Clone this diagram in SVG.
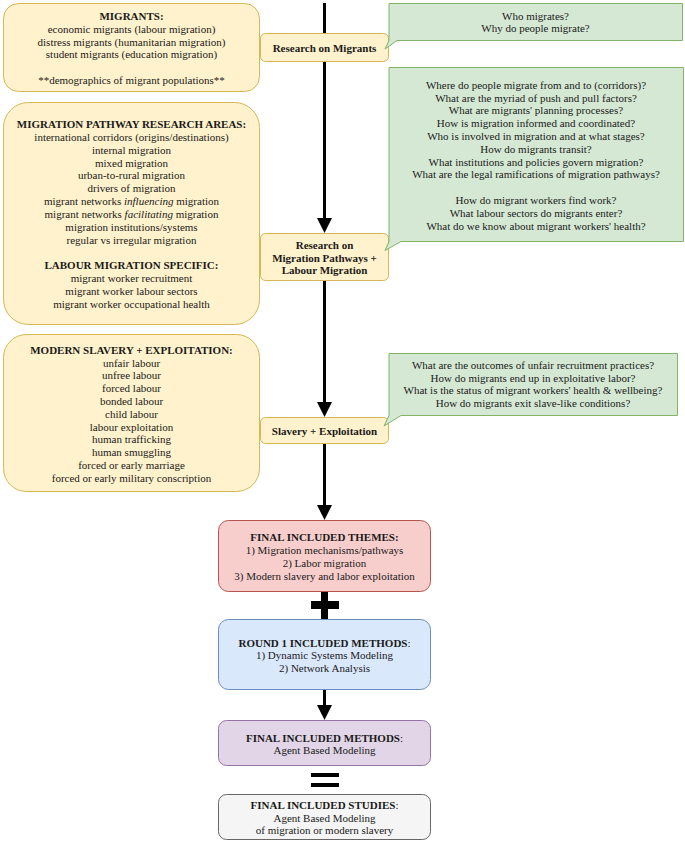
<svg xmlns="http://www.w3.org/2000/svg" width="685" height="842" viewBox="0 0 685 842">
<defs>
<style>
text{font-family:"Liberation Serif","Times New Roman",serif;font-size:11px;fill:#1a1a1a;text-anchor:middle}
.b{font-weight:bold}
.i{font-style:italic}
.n{font-weight:normal}
.yel{fill:#fff2cc;stroke:#d6b656;stroke-width:1}
.grn{fill:#d5e8d4;stroke:#82b366;stroke-width:1}
.red{fill:#f8cecc;stroke:#b85450;stroke-width:1}
.blu{fill:#dae8fc;stroke:#6c8ebf;stroke-width:1}
.pur{fill:#e1d5e7;stroke:#9673a6;stroke-width:1}
.gry{fill:#f5f5f5;stroke:#666666;stroke-width:1}
.ln{stroke:#000;stroke-width:3;fill:none}
</style>
<marker id="arr" markerUnits="userSpaceOnUse" markerWidth="16" markerHeight="16" viewBox="0 0 16 16" refX="8" refY="15" orient="auto-start-reverse">
<path d="M0.5,0 L15.5,0 L8,15 Z" fill="#000"/>
</marker>
</defs>
<rect width="685" height="842" fill="#fff"/>

<g id="connectors">
<line class="ln" x1="324.5" y1="3" x2="324.5" y2="33"/>
<line class="ln" x1="324.5" y1="62" x2="324.5" y2="218" />
<path d="M317,218 L332,218 L324.5,233 Z" fill="#000"/>
<line class="ln" x1="324.5" y1="281" x2="324.5" y2="402"/>
<path d="M317,402 L332,402 L324.5,417 Z" fill="#000"/>
<line class="ln" x1="324.5" y1="444" x2="324.5" y2="505"/>
<path d="M317,505 L332,505 L324.5,520 Z" fill="#000"/>
<line class="ln" x1="324.5" y1="690" x2="324.5" y2="705"/>
<path d="M317,705 L332,705 L324.5,720 Z" fill="#000"/>
</g>

<g id="plus">
<rect x="321" y="591" width="7" height="28" fill="#000"/>
<rect x="311" y="601" width="28" height="8" fill="#000"/>
</g>
<g id="equals">
<rect x="311" y="773" width="28" height="4" fill="#000"/>
<rect x="311" y="783" width="28" height="4" fill="#000"/>
</g>

<g id="migrants">
<rect class="yel" x="3.5" y="3.5" width="256" height="88" rx="15"/>
<text x="131.5" y="19.8" class="b">MIGRANTS:</text>
<text x="131.5" y="32.65">economic migrants (labour migration)</text>
<text x="131.5" y="45.5">distress migrants (humanitarian migration)</text>
<text x="131.5" y="58.35">student migrants (education migration)</text>
<text x="131.5" y="84.05">**demographics of migrant populations**</text>
</g>

<g id="research-migrants">
<rect class="yel" x="260.5" y="33.5" width="128" height="28" rx="5"/>
<text x="324.5" y="52" class="b">Research on Migrants</text>
</g>

<g id="q-migrants">
<path class="grn" d="M389,3.5 H682.5 V40.5 H397 L385,49 L389,40.5 Z"/>
<text x="535.5" y="19.5">Who migrates?</text>
<text x="535.5" y="32.3">Why do people migrate?</text>
</g>

<g id="pathway-areas">
<rect class="yel" x="3.5" y="102.5" width="256" height="222" rx="25"/>
<text x="131.5" y="128" class="b">MIGRATION PATHWAY RESEARCH AREAS:</text>
<text x="131.5" y="140.85">international corridors (origins/destinations)</text>
<text x="131.5" y="153.7">internal migration</text>
<text x="131.5" y="166.55">mixed migration</text>
<text x="131.5" y="179.4">urban-to-rural migration</text>
<text x="131.5" y="192.25">drivers of migration</text>
<text x="131.5" y="205.1">migrant networks <tspan class="i">influencing</tspan> migration</text>
<text x="131.5" y="217.95">migrant networks <tspan class="i">facilitating</tspan> migration</text>
<text x="131.5" y="230.8">migration institutions/systems</text>
<text x="131.5" y="243.65">regular vs irregular migration</text>
<text x="131.5" y="269.35" class="b">LABOUR MIGRATION SPECIFIC:</text>
<text x="131.5" y="282.2">migrant worker recruitment</text>
<text x="131.5" y="295.05">migrant worker labour sectors</text>
<text x="131.5" y="307.9">migrant worker occupational health</text>
</g>

<g id="research-pathways">
<rect class="yel" x="260.5" y="233.5" width="128" height="47" rx="5"/>
<text x="324.5" y="248.8" class="b">Research on</text>
<text x="324.5" y="261.6" class="b">Migration Pathways +</text>
<text x="324.5" y="274.4" class="b">Labour Migration</text>
</g>

<g id="q-pathways">
<path class="grn" d="M389,67.5 H683.5 V241.5 H401 L385,250.5 L389,241.5 Z"/>
<text x="536" y="88.8">Where do people migrate from and to (corridors)?</text>
<text x="536" y="101.6">What are the myriad of push and pull factors?</text>
<text x="536" y="114.4">What are migrants' planning processes?</text>
<text x="536" y="127.2">How is migration informed and coordinated?</text>
<text x="536" y="140">Who is involved in migration and at what stages?</text>
<text x="536" y="152.8">How do migrants transit?</text>
<text x="536" y="165.6">What institutions and policies govern migration?</text>
<text x="536" y="178.4">What are the legal ramifications of migration pathways?</text>
<text x="536" y="204">How do migrant workers find work?</text>
<text x="536" y="216.8">What labour sectors do migrants enter?</text>
<text x="536" y="229.6">What do we know about migrant workers' health?</text>
</g>

<g id="slavery-areas">
<rect class="yel" x="3.5" y="334.5" width="256" height="157" rx="23"/>
<text x="131.5" y="353.8" class="b">MODERN SLAVERY + EXPLOITATION:</text>
<text x="131.5" y="366.6">unfair labour</text>
<text x="131.5" y="379.4">unfree labour</text>
<text x="131.5" y="392.2">forced labour</text>
<text x="131.5" y="405">bonded labour</text>
<text x="131.5" y="417.8">child labour</text>
<text x="131.5" y="430.6">labour exploitation</text>
<text x="131.5" y="443.4">human trafficking</text>
<text x="131.5" y="456.2">human smuggling</text>
<text x="131.5" y="469">forced or early marriage</text>
<text x="131.5" y="481.8">forced or early military conscription</text>
</g>

<g id="slavery-exploitation">
<rect class="yel" x="260.5" y="417.5" width="128" height="26" rx="5"/>
<text x="324.5" y="435" class="b">Slavery + Exploitation</text>
</g>

<g id="q-slavery">
<path class="grn" d="M389,353.5 H677.5 V415.5 H401 L384,426 L389,415.5 Z"/>
<text x="533" y="368.8">What are the outcomes of unfair recruitment practices?</text>
<text x="533" y="381.6">How do migrants end up in exploitative labor?</text>
<text x="533" y="394.4">What is the status of migrant workers' health &amp; wellbeing?</text>
<text x="533" y="407.2">How do migrants exit slave-like conditions?</text>
</g>

<g id="final-themes">
<rect class="red" x="218.5" y="520.5" width="212" height="71" rx="10"/>
<text x="324.5" y="541.1" class="b">FINAL INCLUDED THEMES:</text>
<text x="324.5" y="553.9">1) Migration mechanisms/pathways</text>
<text x="324.5" y="566.7">2) Labor migration</text>
<text x="324.5" y="579.5">3) Modern slavery and labor exploitation</text>
</g>

<g id="round1-methods">
<rect class="blu" x="218.5" y="619.5" width="212" height="70" rx="10"/>
<text x="324.5" y="646.5"><tspan class="b">ROUND 1 INCLUDED METHODS</tspan>:</text>
<text x="324.5" y="659.3">1) Dynamic Systems Modeling</text>
<text x="324.5" y="672.1">2) Network Analysis</text>
</g>

<g id="final-methods">
<rect class="pur" x="218.5" y="720.5" width="212" height="45" rx="8"/>
<text x="324.5" y="741.5"><tspan class="b">FINAL INCLUDED METHODS</tspan>:</text>
<text x="324.5" y="754.3">Agent Based Modeling</text>
</g>

<g id="final-studies">
<rect class="gry" x="218.5" y="794.5" width="212" height="45" rx="8"/>
<text x="324.5" y="808.8"><tspan class="b">FINAL INCLUDED STUDIES</tspan>:</text>
<text x="324.5" y="821.6">Agent Based Modeling</text>
<text x="324.5" y="834.4">of migration or modern slavery</text>
</g>
</svg>
